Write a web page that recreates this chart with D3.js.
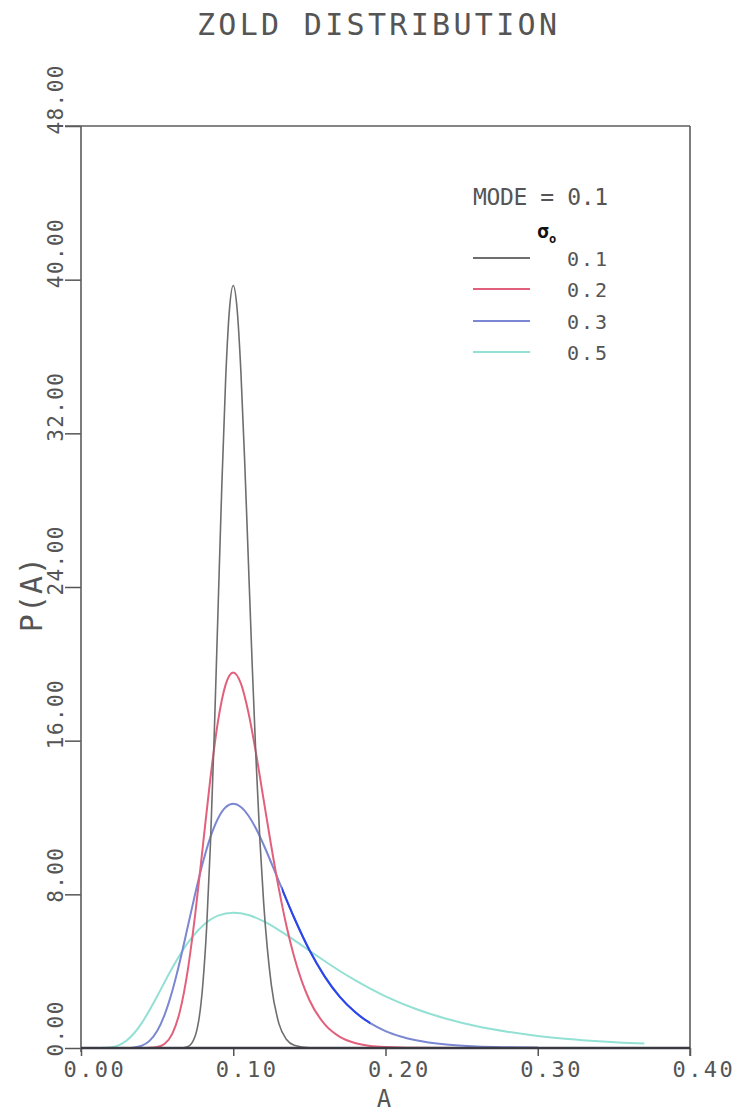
<!DOCTYPE html>
<html>
<head>
<meta charset="utf-8">
<title>Zold distribution</title>
<script src="https://cdn.jsdelivr.net/npm/d3@7"></script>
<style>
    body { margin: 0; background: #fff; }
    text { font-family: "DejaVu Sans Mono", "Liberation Mono", monospace; fill: #555; }
</style>
</head>
<body>
<div id="chart-area"></div>
<script>

// Values (mode = 0.1)
var sigmaLabels = ["0.1", "0.2", "0.3", "0.5"];
var seriesColors = ["#6e6e6e", "#e2607c", "#7b87d2", "#93e0d4"];
var xTicks = [0, 0.1, 0.2, 0.3, 0.4];
var yTicks = [0, 8, 16, 24, 32, 40, 48];

var aSigma1 = [0.06, 0.065, 0.07, 0.075, 0.08, 0.0825, 0.085, 0.0875, 0.09, 0.0925, 0.095, 0.0975, 0.1,
    0.1025, 0.105, 0.1075, 0.11, 0.1125, 0.115, 0.1175, 0.12, 0.125, 0.13, 0.135, 0.14, 0.15, 0.16];
var pSigma1 = [0, 0, 0.07, 0.63, 3.29, 6.24, 10.60, 16.28, 22.79, 29.29, 34.80, 38.44, 39.70,
    38.50, 35.24, 30.56, 25.20, 19.84, 14.95, 10.81, 7.53, 3.29, 1.27, 0.44, 0.14, 0.01, 0];

var aSigma2 = [0.035, 0.04, 0.045, 0.05, 0.055, 0.06, 0.065, 0.07, 0.075, 0.08, 0.085, 0.09, 0.095, 0.1,
    0.105, 0.11, 0.115, 0.12, 0.125, 0.13, 0.135, 0.14, 0.145, 0.15, 0.16, 0.17, 0.18, 0.19, 0.2, 0.22, 0.25];
var pSigma2 = [0, 0, 0.01, 0.05, 0.22, 0.75, 1.92, 3.99, 6.95, 10.49, 14.05, 17.02, 18.92, 19.55,
    18.98, 17.45, 15.32, 12.90, 10.49, 8.27, 6.34, 4.75, 3.48, 2.50, 1.24, 0.58, 0.26, 0.11, 0.05, 0.01, 0];

var aSigma3 = [0.02, 0.03, 0.035, 0.04, 0.045, 0.05, 0.055, 0.06, 0.065, 0.07, 0.075, 0.08, 0.085, 0.09, 0.095, 0.1,
    0.105, 0.11, 0.115, 0.12, 0.13, 0.14, 0.15, 0.16, 0.17, 0.18, 0.19, 0.2, 0.21, 0.22, 0.24, 0.26, 0.28, 0.3];
var pSigma3 = [0, 0, 0.03, 0.12, 0.37, 0.88, 1.75, 2.98, 4.53, 6.27, 8.03, 9.64, 10.98, 11.95, 12.53, 12.71,
    12.55, 12.09, 11.41, 10.57, 8.67, 6.78, 5.10, 3.73, 2.66, 1.87, 1.29, 0.88, 0.60, 0.40, 0.18, 0.08, 0.04, 0.02];

var aSigma5 = [0.005, 0.01, 0.015, 0.02, 0.025, 0.03, 0.035, 0.04, 0.045, 0.05, 0.06, 0.07, 0.08, 0.09, 0.1,
    0.11, 0.12, 0.13, 0.14, 0.15, 0.16, 0.17, 0.18, 0.19, 0.2, 0.22, 0.24, 0.26, 0.28, 0.3, 0.32, 0.34, 0.36, 0.37];
var pSigma5 = [0, 0, 0.01, 0.04, 0.15, 0.39, 0.78, 1.31, 1.97, 2.69, 4.18, 5.46, 6.37, 6.89, 7.04,
    6.92, 6.59, 6.14, 5.62, 5.07, 4.53, 4.01, 3.53, 3.09, 2.69, 2.03, 1.52, 1.13, 0.85, 0.63, 0.47, 0.35, 0.26, 0.23];

// stretch of the sigma 0.3 curve that the plotter drew in bright blue
var brightBlueRange = [0.132, 0.19];


ZoldChart = function(_parentElement) {
    this.parentElement = _parentElement;
    this.series = [
        d3.zip(aSigma1, pSigma1),
        d3.zip(aSigma2, pSigma2),
        d3.zip(aSigma3, pSigma3),
        d3.zip(aSigma5, pSigma5)
    ];

    this.initVisualization();
}

ZoldChart.prototype.initVisualization = function() {
    var vis = this;

    vis.margin = { top: 126, right: 52, bottom: 66, left: 81 };
    vis.width = 742 - vis.margin.left - vis.margin.right;
    vis.height = 1114 - vis.margin.top - vis.margin.bottom;

    vis.root = d3.select('#' + vis.parentElement)
        .append('svg')
        .attr('width', 742)
        .attr('height', 1114);

    vis.svg = vis.root.append('g')
        .attr('transform', 'translate(' + vis.margin.left + ',' + vis.margin.top + ')');

    vis.x = d3.scaleLinear().domain([0, 0.4]).range([0, vis.width]);
    vis.y = d3.scaleLinear().domain([0, 48]).range([vis.height, 0]);

    // Title
    vis.root.append('text')
        .attr('x', 197)
        .attr('y', 35)
        .attr('font-size', 30)
        .attr('textLength', 360)
        .attr('lengthAdjust', 'spacing')
        .text('ZOLD DISTRIBUTION');

    vis.updateVisualization();
}

ZoldChart.prototype.updateVisualization = function() {
    var vis = this;

    // Axes
    var yAxis = d3.axisLeft(vis.y)
        .tickValues(yTicks)
        .tickSize(16)
        .tickFormat(d3.format('.2f'));

    var yg = vis.svg.append('g').attr('class', 'y-axis').call(yAxis);
    yg.select('.domain').remove();
    yg.selectAll('line').attr('stroke', '#555').attr('stroke-width', 1.5);
    yg.selectAll('text')
        .attr('font-size', 21)
        .attr('letter-spacing', 1.4)
        .attr('text-anchor', 'start')
        .attr('transform', 'rotate(-90)')
        .attr('x', -8)
        .attr('y', -18)
        .attr('dy', 0);

    var xAxis = d3.axisBottom(vis.x)
        .tickValues(xTicks)
        .tickSize(8)
        .tickFormat(d3.format('.2f'));

    var xg = vis.svg.append('g')
        .attr('class', 'x-axis')
        .attr('transform', 'translate(0,' + vis.height + ')')
        .call(xAxis);
    xg.select('.domain').remove();
    xg.selectAll('line').attr('stroke', '#555').attr('stroke-width', 1.5);
    xg.selectAll('text')
        .attr('font-size', 22)
        .attr('letter-spacing', 2.4)
        .attr('text-anchor', 'start')
        .attr('x', -18)
        .attr('y', 29)
        .attr('dy', 0);

    // Frame
    var frame = [
        [[-16, 0], [vis.width, 0]],
        [[vis.width, 0], [vis.width, vis.height + 8]],
        [[0, 0], [0, vis.height + 4]]
    ];
    vis.svg.selectAll('.frame')
        .data(frame)
        .enter()
        .append('path')
        .attr('class', 'frame')
        .attr('d', d3.line())
        .attr('fill', 'none')
        .attr('stroke', '#5c5c5c')
        .attr('stroke-width', 1.6);

    // Axis labels
    vis.svg.append('text')
        .attr('x', vis.x(0.199))
        .attr('y', vis.height + 59)
        .attr('text-anchor', 'middle')
        .attr('font-size', 24)
        .text('A');

    vis.svg.append('text')
        .attr('transform', 'translate(' + (42 - vis.margin.left) + ',' + (594 - vis.margin.top) + ') rotate(-90)')
        .attr('text-anchor', 'middle')
        .attr('font-size', 30)
        .attr('letter-spacing', 1)
        .text('P(A)');

    // Curves
    var line = d3.line()
        .x(function(d) { return vis.x(d[0]); })
        .y(function(d) { return vis.y(d[1]); })
        .curve(d3.curveMonotoneX);

    var order = [3, 2, 1, 0];
    order.forEach(function(i) {
        vis.svg.append('path')
            .datum(vis.series[i])
            .attr('fill', 'none')
            .attr('stroke', seriesColors[i])
            .attr('stroke-width', i === 0 ? 1.6 : 2)
            .attr('d', line);
    });

    // Bright blue stretch of the sigma 0.3 curve
    vis.svg.append('clipPath')
        .attr('id', 'blue-clip')
        .append('rect')
        .attr('x', vis.x(brightBlueRange[0]))
        .attr('y', 0)
        .attr('width', vis.x(brightBlueRange[1]) - vis.x(brightBlueRange[0]))
        .attr('height', vis.height);

    vis.svg.append('path')
        .datum(vis.series[2])
        .attr('fill', 'none')
        .attr('stroke', '#2a46ee')
        .attr('stroke-width', 2)
        .attr('clip-path', 'url(#blue-clip)')
        .attr('d', line);

    // Baseline (curves lying on zero)
    vis.svg.append('line')
        .attr('x1', 0)
        .attr('x2', vis.width)
        .attr('y1', vis.y(0))
        .attr('y2', vis.y(0))
        .attr('stroke', '#3a3a42')
        .attr('stroke-width', 2.6);

    // Legend
    var legend = vis.root.append('g').attr('class', 'legend');

    legend.append('text')
        .attr('x', 473)
        .attr('y', 205)
        .attr('font-size', 23)
        .attr('textLength', 135)
        .attr('lengthAdjust', 'spacing')
        .text('MODE = 0.1');

    legend.append('text')
        .attr('x', 537)
        .attr('y', 238)
        .attr('font-family', 'DejaVu Sans')
        .attr('font-weight', 'bold')
        .attr('font-size', 20)
        .style('fill', '#111')
        .text('σ');

    legend.append('text')
        .attr('x', 549)
        .attr('y', 243)
        .attr('font-family', 'DejaVu Sans')
        .attr('font-weight', 'bold')
        .attr('font-size', 12)
        .style('fill', '#111')
        .text('o');

    var legendY = [258, 289, 321, 352];
    sigmaLabels.forEach(function(d, i) {
        legend.append('line')
            .attr('x1', 473)
            .attr('x2', 530)
            .attr('y1', legendY[i])
            .attr('y2', legendY[i])
            .attr('stroke', seriesColors[i])
            .attr('stroke-width', 1.8);

        legend.append('text')
            .attr('x', 567)
            .attr('y', legendY[i] + 8)
            .attr('font-size', 20)
            .attr('letter-spacing', 2)
            .text(d);
    });
}

var chart = new ZoldChart('chart-area');

</script>
</body>
</html>
